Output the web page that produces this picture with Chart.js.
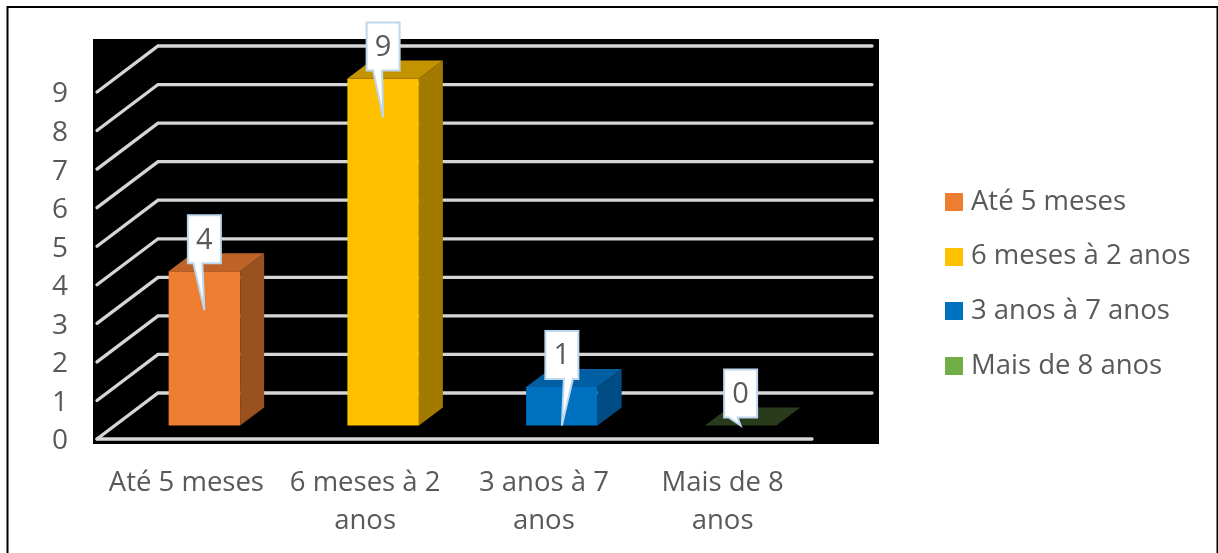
<!DOCTYPE html>
<html>
<head>
<meta charset="utf-8">
<script src="https://cdn.jsdelivr.net/npm/chart.js@4"></script>
<style>
  html, body { margin: 0; padding: 0; background: #fff; overflow: hidden; }
  #wrap { width: 1218px; height: 553px; position: relative; }
</style>
</head>
<body>
<div id="wrap"><canvas id="chart" width="1218" height="553"></canvas></div>
<script>
const categories = ['Até 5 meses', '6 meses à 2 anos', '3 anos à 7 anos', 'Mais de 8 anos'];
const tickLabels = [['Até 5 meses'], ['6 meses à 2', 'anos'], ['3 anos à 7', 'anos'], ['Mais de 8', 'anos']];
const values = [4, 9, 1, 0];
const yTicks = [0, 1, 2, 3, 4, 5, 6, 7, 8, 9];
const barColors = ['#ED7D31', '#FFC000', '#0070C0', '#70AD47'];
const topColors = ['#BE6428', '#C49300', '#005EA3', '#2A3B1B'];
const sideColors = ['#9A5120', '#A37A00', '#004C84', '#2A3B1B'];

const FONT = '"Open Sans", sans-serif';
const TEXT = '#595959';
const SHIFT = 2.5; // tick text sits a little above the drawn grid

// swatches as small canvases so the legend gap can be matched
function swatch(color) {
  const c = document.createElement('canvas');
  c.width = 18;
  c.height = 18;
  const g = c.getContext('2d');
  g.fillStyle = color;
  g.fillRect(0, 0, 18, 18);
  return c;
}

const depth3d = {
  id: 'depth3d',
  beforeDraw(chart) {
    const ctx = chart.ctx;
    ctx.save();
    ctx.fillStyle = '#fff';
    ctx.fillRect(0, 0, 1218, 553);
    ctx.fillStyle = '#000';
    ctx.fillRect(93, 39, 786, 405);
    // outer frame, open at the bottom
    ctx.strokeStyle = '#000';
    ctx.lineWidth = 2;
    ctx.beginPath();
    ctx.moveTo(7.5, 553);
    ctx.lineTo(7.5, 7);
    ctx.lineTo(1217.5, 7);
    ctx.lineTo(1217.5, 553);
    ctx.stroke();
    ctx.restore();
  },
  afterLayout(chart) {
    // the legend sits right of the plot, outside the chart area
    const lg = chart.legend;
    const w = lg.width, h = lg.height;
    lg.left = 923.5;
    lg.right = lg.left + w;
    lg.top = 161;
    lg.bottom = lg.top + h;
  },
  beforeDatasetsDraw(chart) {
    const ctx = chart.ctx;
    const y = chart.scales.y;
    const { left, right } = chart.chartArea;
    ctx.save();
    ctx.strokeStyle = '#D6D6D6';
    ctx.lineWidth = 3.3;
    ctx.lineCap = 'round';
    yTicks.forEach(v => {
      const py = y.getPixelForValue(v) - SHIFT;
      ctx.beginPath();
      ctx.moveTo(left, py);
      ctx.lineTo(left + 61, py - 46);
      ctx.lineTo(right + 60, py - 46);
      ctx.stroke();
    });
    const py0 = y.getPixelForValue(0) - SHIFT;
    ctx.beginPath();
    ctx.moveTo(left, py0);
    ctx.lineTo(right, py0);
    ctx.stroke();
    ctx.restore();
    // bars stand part way into the floor
    ctx.save();
    ctx.translate(18, -13.5 - SHIFT);
  },
  afterDatasetsDraw(chart) {
    const ctx = chart.ctx;
    const bars = chart.getDatasetMeta(0).data;
    const dx = 24, dy = -18;
    bars.forEach((b, i) => {
      const l = b.x - b.width / 2, r = b.x + b.width / 2;
      ctx.fillStyle = sideColors[i];
      ctx.beginPath();
      ctx.moveTo(r, b.y);
      ctx.lineTo(r + dx, b.y + dy);
      ctx.lineTo(r + dx, b.base + dy);
      ctx.lineTo(r, b.base);
      ctx.closePath();
      ctx.fill();
      ctx.fillStyle = topColors[i];
      ctx.beginPath();
      ctx.moveTo(l, b.y);
      ctx.lineTo(l + dx, b.y + dy);
      ctx.lineTo(r + dx, b.y + dy);
      ctx.lineTo(r, b.y);
      ctx.closePath();
      ctx.fill();
    });
    // value callouts
    const tailBase = [-11, -10, 2, -12];
    bars.forEach((b, i) => {
      const cx = b.x;
      const boxTop = b.y - 56, boxBottom = b.y - 8;
      const tip = Math.min(b.y + 39, b.base);
      ctx.fillStyle = '#fff';
      ctx.strokeStyle = '#BDD7EE';
      ctx.lineWidth = 2;
      ctx.lineJoin = 'miter';
      ctx.beginPath();
      ctx.moveTo(cx - 16.5, boxTop);
      ctx.lineTo(cx + 16.5, boxTop);
      ctx.lineTo(cx + 16.5, boxBottom);
      ctx.lineTo(cx + tailBase[i] + 9, boxBottom);
      ctx.lineTo(cx, tip);
      ctx.lineTo(cx + tailBase[i], boxBottom);
      ctx.lineTo(cx - 16.5, boxBottom);
      ctx.closePath();
      ctx.fill();
      ctx.stroke();
      ctx.fillStyle = TEXT;
      ctx.font = '29px ' + FONT;
      ctx.textAlign = 'center';
      ctx.textBaseline = 'middle';
      ctx.fillText(String(values[i]), cx, boxTop + 25);
    });
    ctx.restore();
  }
};

new Chart(document.getElementById('chart'), {
  type: 'bar',
  data: {
    labels: tickLabels,
    datasets: [{
      data: values,
      backgroundColor: barColors,
      borderWidth: 0,
      categoryPercentage: 1,
      barPercentage: 0.4,
      clip: false
    }]
  },
  options: {
    responsive: false,
    animation: false,
    layout: { padding: { top: 92 + SHIFT, right: 406, bottom: 0, left: 0 } },
    plugins: {
      tooltip: { enabled: false },
      title: { display: false },
      legend: {
        position: 'chartArea',
        align: 'start',
        labels: {
          usePointStyle: true,
          pointStyleWidth: 6.5,
          padding: 27.2,
          color: TEXT,
          font: { family: FONT, size: 27.5 },
          generateLabels: () => categories.map((name, i) => ({
            text: name,
            pointStyle: swatch(barColors[i]),
            fontColor: TEXT,
            hidden: false,
            lineWidth: 0,
            index: i
          }))
        }
      }
    },
    scales: {
      x: {
        grid: { display: false },
        border: { display: false },
        afterFit: scale => { scale.height = 114 - SHIFT; },
        ticks: {
          color: TEXT,
          padding: 14.5,
          maxRotation: 0,
          autoSkip: false,
          font: { family: FONT, size: 27.5, lineHeight: 1.38 }
        }
      },
      y: {
        min: 0,
        max: 9,
        grid: { display: false },
        border: { display: false },
        afterFit: scale => { scale.width = 97; },
        ticks: {
          color: TEXT,
          padding: 21,
          stepSize: 1,
          font: { family: FONT, size: 28 }
        }
      }
    }
  },
  plugins: [depth3d]
});
</script>
</body>
</html>
